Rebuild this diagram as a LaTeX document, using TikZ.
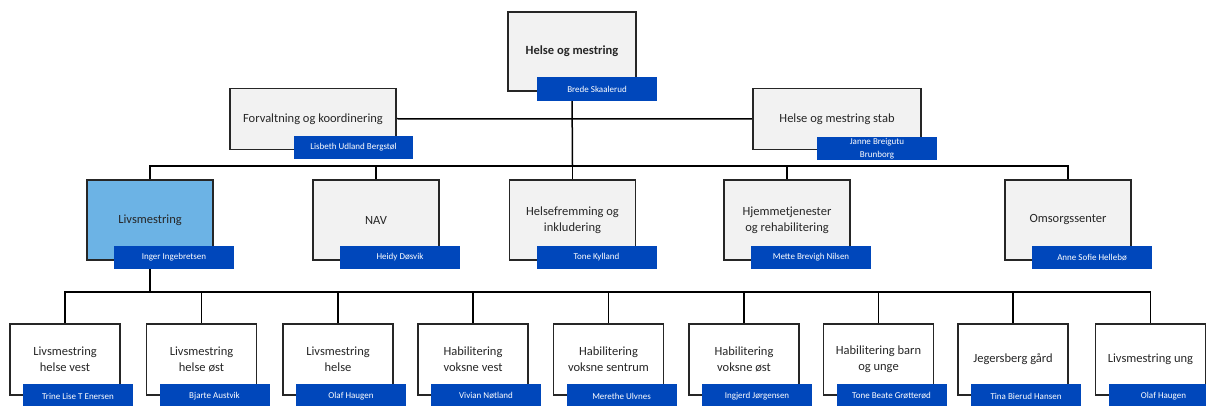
\documentclass[tikz,border=0pt]{standalone}
\usepackage{fontspec}
\setmainfont{Carlito}
\usetikzlibrary{backgrounds}
\definecolor{boxgray}{RGB}{242,242,242}
\definecolor{livblue}{RGB}{108,179,229}
\definecolor{badgeblue}{RGB}{0,71,187}
\definecolor{txt}{RGB}{38,38,38}
\tikzset{
  unit/.style={draw=black!85, line width=1.4pt, fill=boxgray, inner sep=2pt, align=center,
    font=\fontsize{12.5}{16}\selectfont, text=txt},
  top/.style={unit, minimum width=128pt, minimum height=79pt},
  mid/.style={unit, minimum height=61pt},
  dept/.style={unit, minimum width=126pt, minimum height=80pt},
  leaf/.style={unit, fill=white, minimum width=110pt, minimum height=71pt},
  badge/.style={fill=badgeblue, draw=none, text=white, font=\fontsize{9}{13}\selectfont,
    align=center, inner sep=0pt, minimum height=23pt},
  badgeA/.style={badge, minimum width=120pt},
  badgeB/.style={badge, minimum width=110pt, minimum height=24pt},
  link/.style={draw=black, line width=1.5pt},
  busline/.style={draw=black, line width=1.9pt},
}
\begin{document}
\begin{tikzpicture}[x=1pt, y=-1pt]
\clip (0,0) rectangle (1206,406);

% level 1
\node[top] (top) at (572,51.5) {\textbf{Helse og mestring}};
\node[badgeA, minimum height=24pt] (topn) at (597,89) {Brede Skaalerud};

% level 2
\node[mid, minimum width=166pt] (forv) at (313,118.75) {Forvaltning og koordinering};
\node[badge, minimum width=119pt] (forvn) at (353.5,147.5) {Lisbeth Udland Bergstøl};
\node[mid, minimum width=168pt] (stab) at (837,119) {Helse og mestring stab};
\node[badge, minimum width=120pt] (stabn) at (877,148.5) {Janne Breigutu\\Brunborg};

% level 3
\node[dept, fill=livblue] (liv) at (150,220) {Livsmestring};
\node[badgeA] (livn) at (174,257.5) {Inger Ingebretsen};
\node[dept] (nav) at (376,220) {NAV};
\node[badgeA] (navn) at (400,257.5) {Heidy Døsvik};
\node[dept] (hel) at (572.5,220) {Helsefremming og\\inkludering};
\node[badgeA] (heln) at (596.5,257.5) {Tone Kylland};
\node[dept] (hjem) at (787,220) {Hjemmetjenester\\og rehabilitering};
\node[badgeA] (hjemn) at (811,257.5) {Mette Brevigh Nilsen};
\node[dept] (oms) at (1068,220) {Omsorgssenter};
\node[badgeA] (omsn) at (1092,257.5) {Anne Sofie Hellebø};

% level 4
\node[leaf] (l1) at (65,359.5) {Livsmestring\\helse vest};
\node[badgeB] (l1n) at (78,396) {Trine Lise T Enersen};
\node[leaf] (l2) at (201.5,359.5) {Livsmestring\\helse øst};
\node[badgeB] (l2n) at (214.5,396) {Bjarte Austvik};
\node[leaf] (l3) at (338,359.5) {Livsmestring\\helse};
\node[badgeB] (l3n) at (351,396) {Olaf Haugen};
\node[leaf] (l4) at (473,359.5) {Habilitering\\voksne vest};
\node[badgeB] (l4n) at (486,396) {Vivian Nøtland};
\node[leaf] (l5) at (608.5,359.5) {Habilitering\\voksne sentrum};
\node[badgeB] (l5n) at (621.5,396) {Merethe Ulvnes};
\node[leaf] (l6) at (744,359.5) {Habilitering\\voksne øst};
\node[badgeB] (l6n) at (757,396) {Ingjerd Jørgensen};
\node[leaf] (l7) at (878.5,359.5) {Habilitering barn\\og unge};
\node[badgeB] (l7n) at (891.5,396) {Tone Beate Grøtterød};
\node[leaf] (l8) at (1013,359.5) {Jegersberg gård};
\node[badgeB] (l8n) at (1026,396) {Tina Bierud Hansen};
\node[leaf] (l9) at (1150.5,359.5) {Livsmestring ung};
\node[badgeB] (l9n) at (1163.5,396) {Olaf Haugen};

\coordinate (bus1) at (572.5,166);
\coordinate (bus2) at (150,292);

\begin{scope}[on background layer]
  \fill[white] (0,0) rectangle (1206,406);
  \draw[link] (forv.east) -- (stab.west);
  \draw[link] (top.south) -- (bus1);
  \draw[link] (liv.north) |- (bus1) -| (oms.north);
  \draw[link] (nav.north) -- (nav.north |- bus1);
  \draw[link] (hel.north) -- (bus1);
  \draw[link] (hjem.north) -- (hjem.north |- bus1);
  \draw[link] (liv.south) -- (bus2);
  \draw[busline] (l1.north) |- (bus2) -| (l9.north);
  \foreach \k in {2,...,8} {
    \draw[link] (l\k.north) -- (l\k.north |- bus2);
  }
\end{scope}
\end{tikzpicture}
\end{document}
